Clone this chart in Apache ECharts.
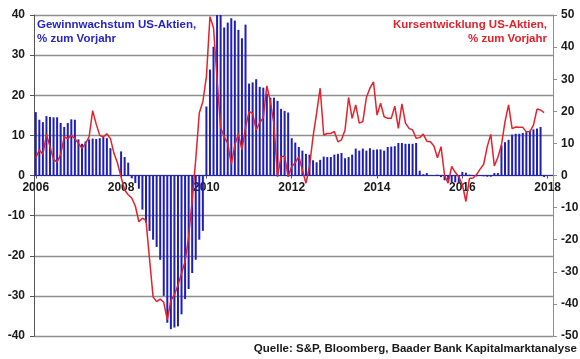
<!DOCTYPE html>
<html>
<head>
<meta charset="utf-8">
<script src="https://cdn.jsdelivr.net/npm/echarts@6/dist/echarts.min.js"></script>
<style>
html,body{margin:0;padding:0;background:#fff;}
#chart{width:580px;height:359px;}
</style>
</head>
<body>
<div id="chart"></div>
<script>
// Year tick labels shown on the x axis
const xTickLabels = ['2006','2008','2010','2012','2014','2016','2018'];
const firstYear = 2006, monthCount = 146; // Jan 2006 .. Feb 2018

// Gewinnwachstum US-Aktien, % zum Vorjahr (left axis), monthly Jan 2006 .. Dec 2017
const gewinnwachstum = [
  15.8, 13.9, 13.3, 14.8, 14.6, 14.5, 14.5, 13.1, 12.1, 13.1, 14.0, 13.9,
  9.0, 7.9, 8.5, 9.0, 9.2, 9.1, 9.3, 9.6, 9.3, 6.8, null, null,
  6.0, 4.6, 3.2, -0.7, -1.9, -3.3, -8.5, -11.7, -13.8, -16.0, -17.8, -21.0,
  -30.0, -36.7, -38.3, -37.9, -37.6, -34.6, -30.8, -28.3, -24.3, -21.0, -16.0, -13.8,
  17.2, 26.4, 32.1, 42.0, 42.0, 36.9, 38.1, 39.2, 38.6, 36.3, 34.2, 37.6,
  22.9, 23.2, 24.0, 22.1, 21.9, 20.4, 19.4, 19.4, 18.6, 16.6, 16.1, 15.7,
  9.3, 8.2, 7.1, 6.2, 5.4, 5.2, 3.8, 3.3, 3.9, 4.7, 4.6, 4.6,
  5.2, 5.4, 5.6, 4.3, 4.6, 5.2, 6.7, 6.2, 6.7, 6.2, 6.8, 6.4,
  6.5, 6.5, 6.2, 7.1, 7.2, 7.3, 8.1, 8.1, 7.9, 7.9, 7.9, 8.1,
  1.2, 0.3, 0.6, 0.1, 0.0, 0.2, -0.4, -1.2, -1.2, -1.7, -1.7, -1.7,
  0.9, 0.7, 0.2, 0.1, -0.2, 0.1, -0.2, -0.3, -0.3, 0.6, 0.6, 7.5,
  8.3, 8.9, 10.2, 10.4, 10.4, 10.6, 10.8, 11.2, 11.5, 11.7, 12.1, -0.4
];

// Kursentwicklung US-Aktien, % zum Vorjahr (right axis), monthly Jan 2006 .. Dec 2017
const kursentwicklung = [
  5.5, 8.0, 6.5, 12.8, 9.0, 5.0, 4.2, 6.5, 12.0, 11.5, 12.5, 11.5,
  10.0, 8.5, 10.0, 12.0, 20.2, 16.0, 12.5, 12.0, 13.0, 11.5, 6.9, 3.8,
  -0.5, -4.5, -6.0, -7.0, -9.5, -14.4, -13.3, -14.0, -26.0, -37.8, -39.3, -38.5,
  -39.5, -45.0, -39.0, -37.2, -34.1, -30.5, -26.8, -19.1, -7.6, 5.0, 19.5, 23.0,
  30.8, 49.5, 46.0, 30.0, 15.0, 12.0, 10.0, 3.5, 9.5, 13.0, 8.0, 15.0,
  19.9, 19.4, 14.2, 16.5, 18.0, 27.9, 23.0, 16.0, -0.4, 5.9, 6.0, -0.4,
  2.8, 4.0, 5.9, 1.7, -2.4, 2.8, 12.1, 19.4, 27.2, 12.6, 13.1, 13.1,
  13.7, 10.5, 11.1, 14.2, 24.3, 17.8, 22.0, 16.3, 16.8, 24.3, 27.2, 29.2,
  18.8, 22.5, 18.3, 17.8, 17.8, 21.6, 14.7, 22.3, 16.3, 14.7, 14.2, 11.6,
  11.8, 12.9, 10.7, 10.5, 9.2, 5.5, 9.0, 0.0, -2.4, 2.8, 1.0, -0.4,
  -2.8, -8.1, -0.9, -0.8, 0.3, 2.0, 3.5, 9.0, 12.8, 3.0, 5.7, 9.5,
  16.8, 22.0, 14.6, 15.1, 15.0, 15.0, 13.6, 13.7, 15.7, 20.7, 20.4, 19.6
];

const months = [];
for (let k = 0; k < monthCount; k++) {
  const y = firstYear + Math.floor(k / 12), m = (k % 12) + 1;
  months.push(y + '-' + (m < 10 ? '0' + m : m));
}
function isYearTick(idx) {
  const v = months[idx];
  return v.slice(5) === '01' && xTickLabels.indexOf(v.slice(0, 4)) >= 0;
}

const FONT = '"Liberation Sans", Arial, sans-serif';
const BLUE = '#1f1fb8';
const RED = '#e3222c';
const GRID_TOP = 15, GRID_BOTTOM = 23, H = 359;
// distance from grid bottom to the zero line of the left axis (min -40, max 40)
const zeroOffset = -((H - GRID_TOP - GRID_BOTTOM) / 2);

const chart = echarts.init(document.getElementById('chart'), null, {renderer: 'canvas'});
chart.setOption({
  animation: false,
  backgroundColor: '#ffffff',
  textStyle: {fontFamily: FONT},
  grid: {left: 34, right: 27, top: GRID_TOP, bottom: GRID_BOTTOM, containLabel: false, outerBoundsMode: 'none'},
  xAxis: {
    type: 'category',
    data: months,
    boundaryGap: true,
    position: 'bottom',
    offset: zeroOffset,
    axisLine: {show: true, onZero: false, lineStyle: {color: '#2a2aa8', width: 1}},
    axisTick: {show: true, alignWithLabel: true, length: 3, interval: isYearTick, lineStyle: {color: '#555'}},
    axisLabel: {
      interval: isYearTick,
      formatter: v => v.slice(0, 4),
      margin: 6,
      fontSize: 12, fontWeight: 'bold', color: '#1a1a1a', fontFamily: FONT
    },
    splitLine: {show: false}
  },
  yAxis: [
    {
      type: 'value', min: -40, max: 40, interval: 10, position: 'left',
      axisLine: {show: true, lineStyle: {color: '#555', width: 1}},
      axisTick: {show: true, length: 4, lineStyle: {color: '#555'}},
      axisLabel: {margin: 9, fontSize: 12, fontWeight: 'bold', color: '#1a1a1a', fontFamily: FONT},
      splitLine: {show: true, lineStyle: {color: '#8f8f8f', width: 1.3}}
    },
    {
      type: 'value', min: -50, max: 50, interval: 10, position: 'right',
      axisLine: {show: true, lineStyle: {color: '#8f8f8f', width: 1}},
      axisTick: {show: true, length: 4, lineStyle: {color: '#8f8f8f'}},
      axisLabel: {margin: 8, fontSize: 12, fontWeight: 'bold', color: '#1a1a1a', fontFamily: FONT},
      splitLine: {show: false}
    }
  ],
  series: [
    {
      name: 'Gewinnwachstum US-Aktien, % zum Vorjahr',
      type: 'bar', yAxisIndex: 0, data: gewinnwachstum,
      barWidth: 2, itemStyle: {color: BLUE}, clip: true, z: 2
    },
    {
      name: 'Kursentwicklung US-Aktien, % zum Vorjahr',
      type: 'line', yAxisIndex: 1, data: kursentwicklung,
      showSymbol: false, symbol: 'none', clip: true,
      lineStyle: {color: RED, width: 1.5}, itemStyle: {color: RED}, z: 3
    }
  ],
  graphic: [
    {
      type: 'text', left: 37, top: 18, z: 10,
      style: {text: 'Gewinnwachstum US-Aktien,\n% zum Vorjahr', fill: '#2626c4',
        font: 'bold 11.5px ' + FONT, lineHeight: 14}
    },
    {
      type: 'text', right: 33, top: 18, z: 10,
      style: {text: 'Kursentwicklung US-Aktien,\n% zum Vorjahr', fill: RED, align: 'right', textAlign: 'right',
        font: 'bold 11.5px ' + FONT, lineHeight: 14}
    },
    {
      type: 'text', right: 3, top: 343, z: 10,
      style: {text: 'Quelle: S&P, Bloomberg, Baader Bank Kapitalmarktanalyse', fill: '#1a1a1a',
        font: 'bold 11.5px ' + FONT}
    }
  ]
});
</script>
</body>
</html>
